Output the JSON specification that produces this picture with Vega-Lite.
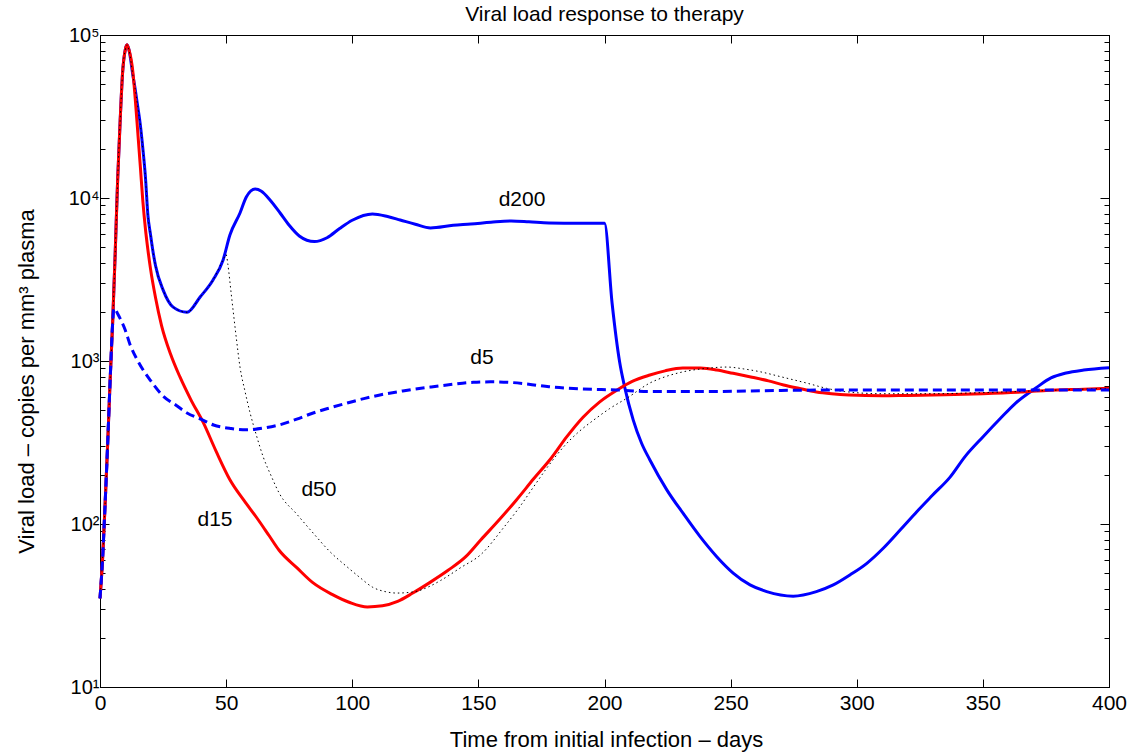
{
  "$schema": "https://vega.github.io/schema/vega-lite/v6.json",
  "width": 1009,
  "height": 652,
  "autosize": "none",
  "padding": {"left": 100, "top": 35, "right": 27, "bottom": 66},
  "title": {"text": "Viral load response to therapy", "anchor": "middle", "frame": "group", "fontSize": 21, "fontWeight": "normal", "font": "Liberation Sans", "color": "black", "baseline": "alphabetic", "offset": -17},
  "datasets": {
    "curves": [
      {"s":"d200","d":0,"v":35},{"s":"d200","d":1,"v":60},{"s":"d200","d":2,"v":130},{"s":"d200","d":3,"v":300},{"s":"d200","d":4,"v":750},{"s":"d200","d":5,"v":1700},{"s":"d200","d":6,"v":4470},{"s":"d200","d":7,"v":13000},{"s":"d200","d":8,"v":30000},{"s":"d200","d":9,"v":60000},{"s":"d200","d":10,"v":81000},{"s":"d200","d":10.7,"v":87000},{"s":"d200","d":11.5,"v":81000},
      {"s":"d200","d":13,"v":57000},{"s":"d200","d":14,"v":46000},{"s":"d200","d":15,"v":36000},{"s":"d200","d":16,"v":28000},{"s":"d200","d":17,"v":20000},{"s":"d200","d":18,"v":13500},{"s":"d200","d":19,"v":7800},{"s":"d200","d":20,"v":6000},{"s":"d200","d":21,"v":4700},{"s":"d200","d":22,"v":3850},{"s":"d200","d":25,"v":2730},{"s":"d200","d":29,"v":2140},{"s":"d200","d":34.5,"v":1990},{"s":"d200","d":39.7,"v":2470},{"s":"d200","d":44.8,"v":3140},{"s":"d200","d":48.8,"v":4170},
      {"s":"d200","d":51.5,"v":5930},{"s":"d200","d":55.5,"v":8090},{"s":"d200","d":58,"v":10140},{"s":"d200","d":61.5,"v":11350},{"s":"d200","d":64,"v":11000},{"s":"d200","d":67.4,"v":9720},{"s":"d200","d":71.4,"v":8090},{"s":"d200","d":75,"v":6800},{"s":"d200","d":79,"v":5850},{"s":"d200","d":85,"v":5400},{"s":"d200","d":90,"v":5700},{"s":"d200","d":95,"v":6500},{"s":"d200","d":100,"v":7300},{"s":"d200","d":108,"v":7980},{"s":"d200","d":114,"v":7700},{"s":"d200","d":119,"v":7330},{"s":"d200","d":125,"v":6900},{"s":"d200","d":131,"v":6550},{"s":"d200","d":140,"v":6800},{"s":"d200","d":147,"v":6920},{"s":"d200","d":155,"v":7100},{"s":"d200","d":163,"v":7230},{"s":"d200","d":170,"v":7150},{"s":"d200","d":178,"v":7030},{"s":"d200","d":190,"v":7000},{"s":"d200","d":200,"v":7000},
      {"s":"d200","d":203,"v":2270},{"s":"d200","d":206,"v":986},{"s":"d200","d":208,"v":692},{"s":"d200","d":211.4,"v":434},{"s":"d200","d":214.7,"v":313},{"s":"d200","d":218,"v":247},{"s":"d200","d":224.7,"v":162},{"s":"d200","d":231.2,"v":116},{"s":"d200","d":237.9,"v":83.6},{"s":"d200","d":244.5,"v":63},{"s":"d200","d":251,"v":50},{"s":"d200","d":257.7,"v":42.3},{"s":"d200","d":264.3,"v":38.5},{"s":"d200","d":274.8,"v":36.1},{"s":"d200","d":284,"v":38.5},{"s":"d200","d":290.7,"v":42.3},{"s":"d200","d":297.3,"v":48.7},{"s":"d200","d":304,"v":57.4},{"s":"d200","d":310.5,"v":71},{"s":"d200","d":317.2,"v":91.8},{"s":"d200","d":323.8,"v":119},{"s":"d200","d":330,"v":150},{"s":"d200","d":337,"v":194},{"s":"d200","d":343,"v":260},{"s":"d200","d":350,"v":342},{"s":"d200","d":357,"v":445},{"s":"d200","d":363,"v":552},{"s":"d200","d":371,"v":683},{"s":"d200","d":377,"v":787},{"s":"d200","d":383,"v":844},{"s":"d200","d":390,"v":880},{"s":"d200","d":400,"v":910},

      {"s":"d15","d":0,"v":35},{"s":"d15","d":1,"v":60},{"s":"d15","d":2,"v":130},{"s":"d15","d":3,"v":300},{"s":"d15","d":4,"v":750},{"s":"d15","d":5,"v":1700},{"s":"d15","d":6,"v":4470},{"s":"d15","d":7,"v":13000},{"s":"d15","d":8,"v":30000},{"s":"d15","d":9,"v":60000},{"s":"d15","d":10,"v":81000},{"s":"d15","d":10.7,"v":87000},{"s":"d15","d":11.5,"v":81000},
      {"s":"d15","d":13,"v":60000},{"s":"d15","d":14,"v":40000},{"s":"d15","d":15,"v":25000},{"s":"d15","d":16,"v":15500},{"s":"d15","d":17,"v":9500},{"s":"d15","d":18,"v":6500},{"s":"d15","d":19,"v":4800},{"s":"d15","d":20,"v":3700},{"s":"d15","d":22,"v":2450},{"s":"d15","d":24.4,"v":1650},{"s":"d15","d":28,"v":1100},{"s":"d15","d":31.7,"v":798},{"s":"d15","d":36,"v":580},{"s":"d15","d":41,"v":417},{"s":"d15","d":46,"v":280},{"s":"d15","d":51.5,"v":187},{"s":"d15","d":57,"v":140},{"s":"d15","d":62,"v":110},{"s":"d15","d":67,"v":85},{"s":"d15","d":71,"v":69},{"s":"d15","d":78,"v":54},{"s":"d15","d":84.5,"v":43.5},{"s":"d15","d":92,"v":37},{"s":"d15","d":99,"v":33},{"s":"d15","d":106,"v":31},{"s":"d15","d":112,"v":31.5},{"s":"d15","d":118,"v":33.5},{"s":"d15","d":124,"v":37.7},{"s":"d15","d":131,"v":44},{"s":"d15","d":138,"v":52},{"s":"d15","d":145,"v":63},{"s":"d15","d":151,"v":80},{"s":"d15","d":158,"v":105},{"s":"d15","d":165,"v":140},{"s":"d15","d":172,"v":190},{"s":"d15","d":179,"v":255},{"s":"d15","d":185,"v":342},{"s":"d15","d":191.5,"v":452},{"s":"d15","d":198,"v":560},{"s":"d15","d":205,"v":664},{"s":"d15","d":211,"v":750},{"s":"d15","d":218,"v":820},{"s":"d15","d":224,"v":870},{"s":"d15","d":231,"v":906},{"s":"d15","d":238,"v":905},{"s":"d15","d":244.5,"v":881},{"s":"d15","d":251,"v":840},{"s":"d15","d":258,"v":798},{"s":"d15","d":265,"v":755},{"s":"d15","d":271,"v":713},{"s":"d15","d":277,"v":680},{"s":"d15","d":284,"v":646},{"s":"d15","d":290,"v":630},{"s":"d15","d":297,"v":619},{"s":"d15","d":310,"v":612},{"s":"d15","d":320,"v":615},{"s":"d15","d":335,"v":620},{"s":"d15","d":350,"v":630},{"s":"d15","d":365,"v":645},{"s":"d15","d":375,"v":660},{"s":"d15","d":390,"v":672},{"s":"d15","d":400,"v":680},

      {"s":"d50","d":0,"v":35},{"s":"d50","d":1,"v":60},{"s":"d50","d":2,"v":130},{"s":"d50","d":3,"v":300},{"s":"d50","d":4,"v":750},{"s":"d50","d":5,"v":1700},{"s":"d50","d":6,"v":4470},{"s":"d50","d":7,"v":13000},{"s":"d50","d":8,"v":30000},{"s":"d50","d":9,"v":60000},{"s":"d50","d":10,"v":81000},{"s":"d50","d":10.7,"v":87000},{"s":"d50","d":11.5,"v":81000},
      {"s":"d50","d":13,"v":57000},{"s":"d50","d":14,"v":46000},{"s":"d50","d":15,"v":36000},{"s":"d50","d":16,"v":28000},{"s":"d50","d":17,"v":20000},{"s":"d50","d":18,"v":13500},{"s":"d50","d":19,"v":7800},{"s":"d50","d":20,"v":6000},{"s":"d50","d":21,"v":4700},{"s":"d50","d":22,"v":3850},{"s":"d50","d":25,"v":2730},{"s":"d50","d":29,"v":2140},{"s":"d50","d":34.5,"v":1990},{"s":"d50","d":39.7,"v":2470},{"s":"d50","d":44.8,"v":3140},{"s":"d50","d":48.8,"v":4170},
      {"s":"d50","d":50,"v":4500},{"s":"d50","d":50.7,"v":3900},{"s":"d50","d":52,"v":2600},{"s":"d50","d":53,"v":1900},{"s":"d50","d":54,"v":1400},{"s":"d50","d":55.5,"v":918},{"s":"d50","d":57.5,"v":650},{"s":"d50","d":59.5,"v":480},{"s":"d50","d":62,"v":350},{"s":"d50","d":64.7,"v":258},{"s":"d50","d":68,"v":195},{"s":"d50","d":71,"v":155},{"s":"d50","d":78,"v":115},{"s":"d50","d":84.5,"v":88},{"s":"d50","d":91,"v":68},{"s":"d50","d":98,"v":54.5},{"s":"d50","d":103,"v":47},{"s":"d50","d":108,"v":41},{"s":"d50","d":113,"v":38.5},{"s":"d50","d":117.7,"v":37.7},{"s":"d50","d":125,"v":38.5},{"s":"d50","d":130,"v":41},{"s":"d50","d":135,"v":45},{"s":"d50","d":143,"v":54},{"s":"d50","d":151,"v":65},{"s":"d50","d":160,"v":95},{"s":"d50","d":166,"v":125},{"s":"d50","d":172,"v":170},{"s":"d50","d":178,"v":230},{"s":"d50","d":184,"v":300},{"s":"d50","d":190,"v":370},{"s":"d50","d":195.7,"v":434},{"s":"d50","d":202,"v":510},{"s":"d50","d":209,"v":593},{"s":"d50","d":218,"v":733},{"s":"d50","d":224,"v":800},{"s":"d50","d":231,"v":857},{"s":"d50","d":240,"v":900},{"s":"d50","d":248.5,"v":918},{"s":"d50","d":255,"v":895},{"s":"d50","d":262,"v":857},{"s":"d50","d":270,"v":800},{"s":"d50","d":280,"v":733},{"s":"d50","d":288,"v":680},{"s":"d50","d":295,"v":650},{"s":"d50","d":310,"v":630},{"s":"d50","d":330,"v":630},{"s":"d50","d":350,"v":640},{"s":"d50","d":370,"v":655},{"s":"d50","d":385,"v":668},{"s":"d50","d":400,"v":680},

      {"s":"d5","d":0,"v":35},{"s":"d5","d":1,"v":60},{"s":"d5","d":2,"v":130},{"s":"d5","d":3,"v":300},{"s":"d5","d":4,"v":750},{"s":"d5","d":5,"v":1700},{"s":"d5","d":5.5,"v":2100},{"s":"d5","d":6,"v":2080},{"s":"d5","d":7,"v":1950},{"s":"d5","d":8,"v":1820},{"s":"d5","d":10,"v":1550},{"s":"d5","d":12,"v":1250},{"s":"d5","d":15,"v":1000},{"s":"d5","d":20,"v":760},{"s":"d5","d":25,"v":610},{"s":"d5","d":30,"v":537},{"s":"d5","d":34.5,"v":480},{"s":"d5","d":40,"v":440},{"s":"d5","d":45,"v":405},{"s":"d5","d":52,"v":385},{"s":"d5","d":58,"v":378},{"s":"d5","d":65,"v":388},{"s":"d5","d":71,"v":405},{"s":"d5","d":78,"v":440},{"s":"d5","d":84.5,"v":480},{"s":"d5","d":91,"v":515},{"s":"d5","d":98,"v":552},{"s":"d5","d":105,"v":590},{"s":"d5","d":111,"v":619},{"s":"d5","d":120,"v":655},{"s":"d5","d":131,"v":692},{"s":"d5","d":140,"v":720},{"s":"d5","d":148,"v":740},{"s":"d5","d":155,"v":745},{"s":"d5","d":162,"v":740},{"s":"d5","d":170,"v":720},{"s":"d5","d":178,"v":695},{"s":"d5","d":190,"v":675},{"s":"d5","d":205,"v":664},{"s":"d5","d":218,"v":650},{"s":"d5","d":240,"v":650},{"s":"d5","d":270,"v":660},{"s":"d5","d":300,"v":665},{"s":"d5","d":330,"v":665},{"s":"d5","d":360,"v":665},{"s":"d5","d":400,"v":665}
    ],
    "labels": [
      {"t":"d200","d":167.3,"v":9720},
      {"t":"d5","d":151.4,"v":1043},
      {"t":"d50","d":86.8,"v":162},
      {"t":"d15","d":45.6,"v":106}
    ]
  },
  "layer": [
    {
      "data": {"name": "curves"},
      "transform": [{"filter": "datum.s == 'd200'"}],
      "mark": {"type": "line", "color": "#0000ff", "strokeWidth": 3, "interpolate": "monotone"},
      "encoding": {
        "x": {"field": "d", "type": "quantitative", "scale": {"domain": [0, 400], "nice": false},
          "axis": {"orient": "bottom", "values": [0,50,100,150,200,250,300,350,400], "tickSize": -8, "labelPadding": 13, "title": "Time from initial infection – days", "titleX": 506, "titleY": 59, "titleBaseline": "alphabetic", "titleFontSize": 22, "labelFlush": false, "labelOverlap": false}},
        "y": {"field": "v", "type": "quantitative", "scale": {"type": "log", "domain": [10, 100000], "nice": false},
          "axis": {"orient": "left", "values": [10,20,30,40,50,60,70,80,90,100,200,300,400,500,600,700,800,900,1000,2000,3000,4000,5000,6000,7000,8000,9000,10000,20000,30000,40000,50000,60000,70000,80000,90000,100000], "tickSize": -5, "labelPadding": 6, "labelOverlap": false, "labelFlush": false, "labelFontSize": 20,
            "labelExpr": "datum.value == 10 ? '10¹' : datum.value == 100 ? '10²' : datum.value == 1000 ? '10³' : datum.value == 10000 ? '10⁴' : datum.value == 100000 ? '10⁵' : ''",
            "title": "Viral load – copies per mm³ plasma", "titleX": -67, "titleY": 346, "titleBaseline": "alphabetic", "titleAngle": -90, "titleFontSize": 22}}
      }
    },
    {
      "data": {"name": "curves"},
      "transform": [{"filter": "datum.s == 'd15'"}],
      "mark": {"type": "line", "color": "#ff0000", "strokeWidth": 3, "interpolate": "monotone"},
      "encoding": {
        "x": {"field": "d", "type": "quantitative", "axis": {"orient": "top", "values": [0,50,100,150,200,250,300,350,400], "tickSize": -8, "labels": false, "title": null}},
        "y": {"field": "v", "type": "quantitative", "axis": {"orient": "right", "values": [10,20,30,40,50,60,70,80,90,100,200,300,400,500,600,700,800,900,1000,2000,3000,4000,5000,6000,7000,8000,9000,10000,20000,30000,40000,50000,60000,70000,80000,90000,100000], "tickSize": -5, "labels": false, "title": null}}
      }
    },
    {
      "data": {"name": "curves"},
      "transform": [{"filter": "datum.s == 'd50'"}],
      "mark": {"type": "line", "color": "#000000", "strokeWidth": 1, "strokeDash": [1.5, 3], "interpolate": "monotone"},
      "encoding": {
        "x": {"field": "d", "type": "quantitative", "axis": null},
        "y": {"field": "v", "type": "quantitative", "axis": {"orient": "left", "values": [10,100,1000,10000,100000], "tickSize": -9, "labels": false, "domain": false, "title": null}}
      }
    },
    {
      "data": {"name": "curves"},
      "transform": [{"filter": "datum.s == 'd5'"}],
      "mark": {"type": "line", "color": "#0000ff", "strokeWidth": 3, "strokeDash": [9, 5], "interpolate": "monotone"},
      "encoding": {
        "x": {"field": "d", "type": "quantitative", "axis": null},
        "y": {"field": "v", "type": "quantitative", "axis": {"orient": "right", "values": [10,100,1000,10000,100000], "tickSize": -9, "labels": false, "domain": false, "title": null}}
      }
    },
    {
      "data": {"name": "labels"},
      "mark": {"type": "text", "font": "Liberation Sans", "fontSize": 21, "color": "black", "align": "center", "baseline": "middle"},
      "encoding": {
        "x": {"field": "d", "type": "quantitative", "axis": null},
        "y": {"field": "v", "type": "quantitative", "axis": null},
        "text": {"field": "t"}
      }
    }
  ],
  "resolve": {"axis": {"x": "independent", "y": "independent"}},
  "config": {
    "view": {"stroke": "black", "strokeWidth": 1},
    "axis": {"grid": false, "domainColor": "black", "domainWidth": 1, "tickColor": "black", "tickWidth": 1, "labelColor": "black", "titleColor": "black", "labelFont": "Liberation Sans", "titleFont": "Liberation Sans", "labelFontSize": 21, "titleFontSize": 22, "titleFontWeight": "normal"}
  }
}
